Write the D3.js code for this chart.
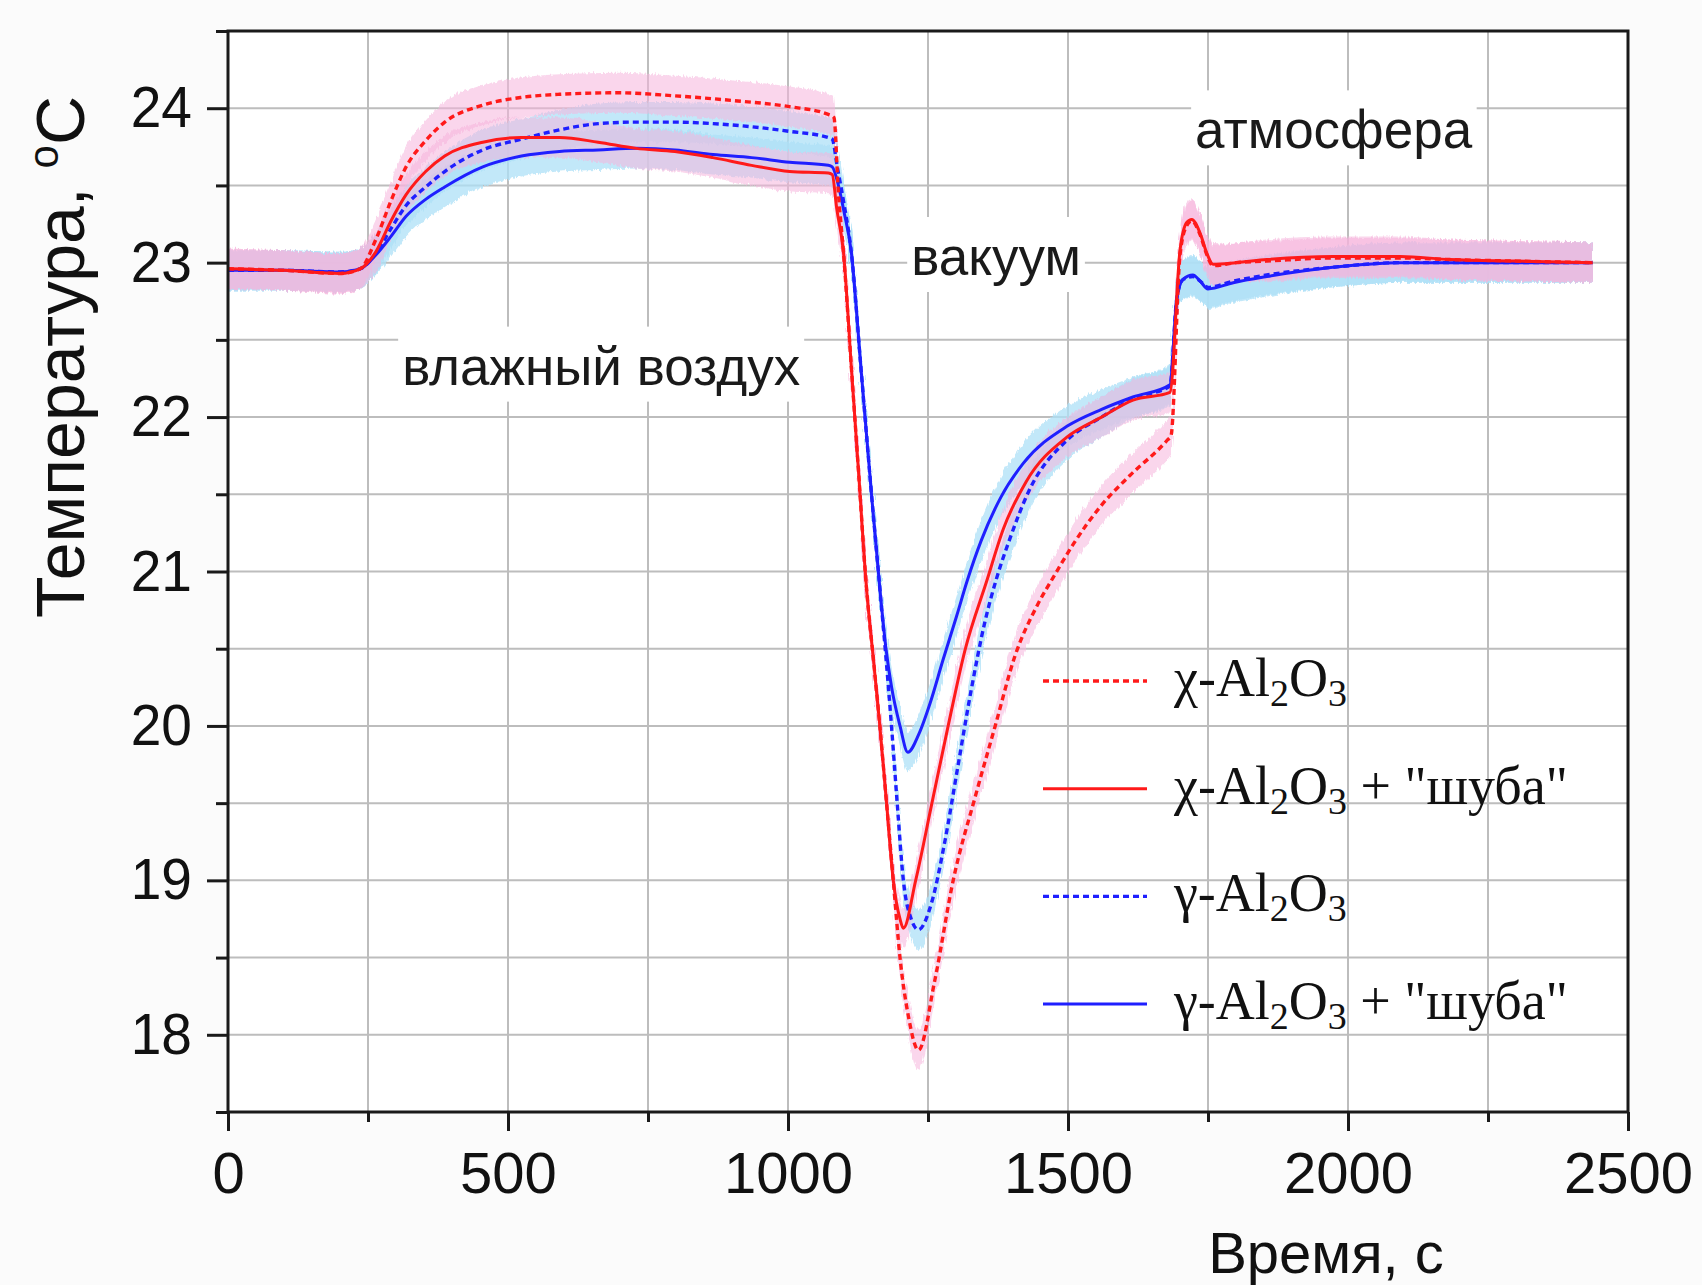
<!DOCTYPE html>
<html lang="ru">
<head>
  <meta charset="UTF-8">
  <title>Температура образцов Al2O3</title>
  <script src="https://cdn.jsdelivr.net/npm/d3@7/dist/d3.min.js"></script>
  <style>
    html, body { margin: 0; padding: 0; background: #fbfbfb; }
    svg { display: block; }
  </style>
</head>
<body>
<div id="chart"></div>
<script>
  // Время, с / температура, °C
  var tChi = [0, 100, 200, 236, 264, 291, 318, 353, 387, 455, 524, 592, 695, 798, 901, 1003, 1072, 1082, 1090, 1099,
    1113, 1127, 1140, 1152, 1164, 1176, 1188, 1200, 1215, 1233, 1262, 1295, 1335, 1370, 1405, 1445, 1475, 1510, 1560, 1610,
    1677, 1684, 1700, 1712, 1721, 1736, 1748, 1759, 1800, 1855, 1973, 2093, 2182, 2300, 2437];
  var TChi = [22.96, 22.95, 22.93, 22.96, 23.15, 23.40, 23.62, 23.79, 23.91, 24.02, 24.07, 24.09, 24.10, 24.08, 24.05, 24.01, 23.96, 23.94, 23.45, 23.07,
    22.33, 21.59, 20.90, 20.45, 20.00, 19.50, 19.00, 18.50, 18.12, 17.90, 18.35, 19.00, 19.55, 20.00, 20.45, 20.78, 20.97, 21.18, 21.43, 21.62,
    21.85, 21.88, 23.05, 23.24, 23.27, 23.18, 23.05, 22.98, 23.00, 23.01, 23.03, 23.03, 23.02, 23.01, 23.00];

  var tChiShuba = [0, 100, 200, 236, 264, 291, 318, 353, 387, 455, 524, 592, 661, 729, 798, 866, 935, 1003, 1072, 1079,
    1087, 1099, 1113, 1127, 1140, 1152, 1164, 1176, 1188, 1200, 1206, 1228, 1257, 1286, 1316, 1355, 1385, 1425, 1498, 1560,
    1616, 1682, 1700, 1712, 1721, 1736, 1748, 1759, 1800, 1855, 1973, 2093, 2182, 2300, 2437];
  var TChiShuba = [22.96, 22.95, 22.93, 22.96, 23.07, 23.27, 23.44, 23.59, 23.69, 23.78, 23.81, 23.81, 23.78, 23.74, 23.72, 23.68, 23.63, 23.59, 23.58, 23.57,
    23.35, 23.07, 22.33, 21.59, 20.90, 20.45, 20.00, 19.50, 19.00, 18.75, 18.69, 19.00, 19.50, 20.00, 20.49, 20.94, 21.28, 21.58, 21.87, 22.00,
    22.11, 22.16, 23.08, 23.26, 23.28, 23.19, 23.06, 22.99, 23.00, 23.02, 23.04, 23.04, 23.02, 23.01, 23.00];

  var tGam = [0, 100, 200, 236, 264, 291, 318, 353, 387, 455, 524, 592, 661, 729, 798, 866, 935, 1003, 1072, 1079,
    1088, 1100, 1113, 1130, 1147, 1165, 1175, 1185, 1195, 1206, 1220, 1233, 1256, 1280, 1303, 1327, 1352, 1372, 1395, 1430,
    1498, 1560, 1616, 1682, 1694, 1705, 1723, 1736, 1750, 1795, 1855, 1973, 2093, 2200, 2300, 2437];
  var TGam = [22.95, 22.95, 22.94, 22.96, 23.06, 23.22, 23.37, 23.49, 23.59, 23.73, 23.80, 23.86, 23.90, 23.91, 23.91, 23.90, 23.88, 23.85, 23.81, 23.80,
    23.62, 23.38, 23.07, 22.33, 21.59, 20.85, 20.44, 19.99, 19.50, 19.00, 18.75, 18.68, 18.85, 19.25, 19.73, 20.23, 20.68, 20.95, 21.20, 21.52,
    21.85, 22.00, 22.12, 22.20, 22.76, 22.89, 22.91, 22.88, 22.84, 22.88, 22.92, 22.97, 23.00, 23.00, 23.00, 23.00];

  var tGamShuba = [0, 100, 200, 236, 264, 291, 318, 353, 387, 455, 524, 592, 661, 729, 798, 866, 935, 1003, 1072, 1079,
    1090, 1100, 1113, 1130, 1147, 1165, 1175, 1185, 1200, 1214, 1234, 1254, 1277, 1301, 1320, 1345, 1380, 1420, 1498, 1560,
    1616, 1682, 1694, 1705, 1723, 1736, 1750, 1795, 1855, 1973, 2093, 2200, 2300, 2437];
  var TGamShuba = [22.95, 22.95, 22.94, 22.96, 23.05, 23.17, 23.30, 23.41, 23.49, 23.62, 23.69, 23.72, 23.73, 23.74, 23.73, 23.70, 23.68, 23.65, 23.63, 23.62,
    23.50, 23.33, 23.07, 22.33, 21.59, 20.85, 20.50, 20.25, 20.00, 19.83, 19.95, 20.15, 20.43, 20.71, 20.94, 21.20, 21.48, 21.70, 21.94, 22.05,
    22.13, 22.21, 22.76, 22.89, 22.92, 22.88, 22.83, 22.87, 22.91, 22.97, 23.00, 23.00, 23.00, 23.00];

  // разброс измерений (полуширина полосы), °C
  var noise = 0.13;

  var xTicksMajor = [0, 500, 1000, 1500, 2000, 2500];
  var xTicksMinor = [250, 750, 1250, 1750, 2250];
  var yTicksMajor = [18, 19, 20, 21, 22, 23, 24];
  var yTicksMinor = [17.5, 18.5, 19.5, 20.5, 21.5, 22.5, 23.5, 24.5];

  var annotations = [
    { text: 'влажный воздух', t: 311, T: 22.21 },
    { text: 'вакуум', t: 1220, T: 22.92 },
    { text: 'атмосфера', t: 1727, T: 23.74 }
  ];

  var W = 1702, H = 1285;
  var x = d3.scaleLinear().domain([0, 2500]).range([228, 1628]);
  var y = d3.scaleLinear().domain([17.5, 24.5]).range([1112, 31]);

  var RED = '#ff1a1a', BLUE = '#1f1fff';
  var SANS = 'Liberation Sans, Arial, sans-serif';

  var series = [
    { t: tGamShuba, T: TGamShuba, color: BLUE, dash: null, band: '#aee0f7', label: ['γ', true] },
    { t: tGam, T: TGam, color: BLUE, dash: '6,4', band: '#aee0f7', label: ['γ', false] },
    { t: tChiShuba, T: TChiShuba, color: RED, dash: null, band: '#f6b4dc', label: ['χ', true] },
    { t: tChi, T: TChi, color: RED, dash: '6,4', band: '#f6b4dc', label: ['χ', false] }
  ];

  var svg = d3.select('#chart').append('svg')
    .attr('width', W)
    .attr('height', H);

  // рваный край полос, как у шумных данных
  var filter = svg.append('defs').append('filter')
    .attr('id', 'fuzz')
    .attr('x', '-2%').attr('y', '-10%').attr('width', '104%').attr('height', '120%');
  filter.append('feTurbulence')
    .attr('type', 'fractalNoise')
    .attr('baseFrequency', '0.6 0.08')
    .attr('numOctaves', 1)
    .attr('seed', 3)
    .attr('result', 'n');
  filter.append('feDisplacementMap')
    .attr('in', 'SourceGraphic')
    .attr('in2', 'n')
    .attr('scale', 7)
    .attr('xChannelSelector', 'R')
    .attr('yChannelSelector', 'G');

  svg.append('rect')
    .attr('x', x(0)).attr('y', y(24.5))
    .attr('width', x(2500) - x(0)).attr('height', y(17.5) - y(24.5))
    .attr('fill', '#ffffff');

  // сетка
  var grid = svg.append('g').attr('stroke', '#bdbdbd').attr('stroke-width', 2);
  grid.selectAll('.gx')
    .data(xTicksMajor.concat(xTicksMinor).filter(function(d) { return d > 0 && d < 2500; }))
    .enter().append('line')
    .attr('x1', function(d) { return x(d); }).attr('x2', function(d) { return x(d); })
    .attr('y1', y(24.5)).attr('y2', y(17.5));
  grid.selectAll('.gy')
    .data(yTicksMajor.concat(yTicksMinor).filter(function(d) { return d > 17.5 && d < 24.5; }))
    .enter().append('line')
    .attr('y1', function(d) { return y(d); }).attr('y2', function(d) { return y(d); })
    .attr('x1', x(0)).attr('x2', x(2500));

  // подписи режимов на белом фоне
  var ann = svg.append('g')
    .attr('font-family', SANS)
    .attr('font-size', 53)
    .attr('fill', '#1a1a1a');
  annotations.forEach(function(a) {
    var g = ann.append('g');
    var txt = g.append('text').attr('x', x(a.t)).attr('y', y(a.T)).text(a.text);
    var bb = txt.node().getBBox();
    g.insert('rect', 'text')
      .attr('x', bb.x - 4).attr('y', bb.y - 10)
      .attr('width', bb.width + 8).attr('height', bb.height + 16)
      .attr('fill', '#ffffff');
  });

  var area = d3.area()
    .x(function(d) { return x(d[0]); })
    .y0(function(d) { return y(d[1] - noise); })
    .y1(function(d) { return y(d[1] + noise); })
    .curve(d3.curveMonotoneX);
  var line = d3.line()
    .x(function(d) { return x(d[0]); })
    .y(function(d) { return y(d[1]); })
    .curve(d3.curveMonotoneX);

  series.forEach(function(s) {
    s.pts = s.t.map(function(t, i) { return [t, s.T[i]]; });
  });

  // полосы разброса
  svg.append('g')
    .attr('filter', 'url(#fuzz)')
    .selectAll('path')
    .data(series)
    .enter().append('path')
    .attr('d', function(d) { return area(d.pts); })
    .attr('fill', function(d) { return d.band; })
    .attr('opacity', function(d) { return d.color === RED ? 0.55 : 0.75; });

  svg.append('g').selectAll('path')
    .data(series)
    .enter().append('path')
    .attr('d', function(d) { return line(d.pts); })
    .attr('fill', 'none')
    .attr('stroke', function(d) { return d.color; })
    .attr('stroke-width', function(d) { return d.dash ? 3.4 : 3; })
    .attr('stroke-dasharray', function(d) { return d.dash; });

  // оси
  var axisColor = '#1a1a1a';
  function styleAxis(g) {
    g.select('.domain').remove();
    g.selectAll('.tick line').attr('stroke', axisColor).attr('stroke-width', 3);
    g.selectAll('text')
      .attr('font-family', SANS)
      .attr('font-size', 58)
      .attr('fill', '#111')
      .attr('transform', 'scale(0.95,1)');
  }

  svg.append('g')
    .attr('transform', 'translate(0,' + y(17.5) + ')')
    .call(d3.axisBottom(x).tickValues(xTicksMinor).tickSize(10).tickFormat(''))
    .call(styleAxis);
  var xAxis = svg.append('g')
    .attr('transform', 'translate(0,' + y(17.5) + ')')
    .call(d3.axisBottom(x).tickValues(xTicksMajor).tickSize(19).tickPadding(21).tickFormat(d3.format('d')))
    .call(styleAxis);
  xAxis.selectAll('.tick text').attr('transform', null);
  svg.append('g')
    .attr('transform', 'translate(' + x(0) + ',0)')
    .call(d3.axisLeft(y).tickValues(yTicksMinor).tickSize(12).tickFormat(''))
    .call(styleAxis);
  svg.append('g')
    .attr('transform', 'translate(' + x(0) + ',0)')
    .call(d3.axisLeft(y).tickValues(yTicksMajor).tickSize(21).tickPadding(17).tickFormat(d3.format('d')))
    .call(styleAxis);

  svg.append('rect')
    .attr('x', x(0)).attr('y', y(24.5))
    .attr('width', x(2500) - x(0)).attr('height', y(17.5) - y(24.5))
    .attr('fill', 'none')
    .attr('stroke', axisColor)
    .attr('stroke-width', 3);

  // подписи осей
  svg.append('text')
    .attr('x', 1326).attr('y', 1273)
    .attr('text-anchor', 'middle')
    .attr('font-family', SANS)
    .attr('font-size', 58)
    .attr('fill', '#111')
    .text('Время, с');

  var yl = svg.append('text')
    .attr('transform', 'translate(84,357) rotate(-90)')
    .attr('text-anchor', 'middle')
    .attr('font-family', SANS)
    .attr('font-size', 68)
    .attr('fill', '#111');
  yl.append('tspan').text('Температура, ');
  yl.append('tspan').attr('font-size', 42).attr('dy', -26).text('o');
  yl.append('tspan').attr('dy', 26).text('C');

  // легенда
  var legend = svg.append('g')
    .attr('font-family', 'Liberation Serif, Times New Roman, serif')
    .attr('font-size', 54)
    .attr('fill', '#111');
  var legendOrder = [series[3], series[2], series[1], series[0]];
  legendOrder.forEach(function(s, i) {
    var ly = 681 + i * 107.7;
    legend.append('line')
      .attr('x1', 1043).attr('x2', 1147)
      .attr('y1', ly).attr('y2', ly)
      .attr('stroke', s.color)
      .attr('stroke-width', s.dash ? 3.4 : 3)
      .attr('stroke-dasharray', s.dash);
    var txt = legend.append('text').attr('x', 1174).attr('y', ly + 15);
    txt.append('tspan').text(s.label[0] + '-Al');
    txt.append('tspan').attr('font-size', 38).attr('dy', 10).text('2');
    txt.append('tspan').attr('dy', -10).text('O');
    txt.append('tspan').attr('font-size', 38).attr('dy', 10).text('3');
    txt.append('tspan').attr('dy', -10).text(s.label[1] ? ' + "шуба"' : '');
  });
</script>
</body>
</html>
